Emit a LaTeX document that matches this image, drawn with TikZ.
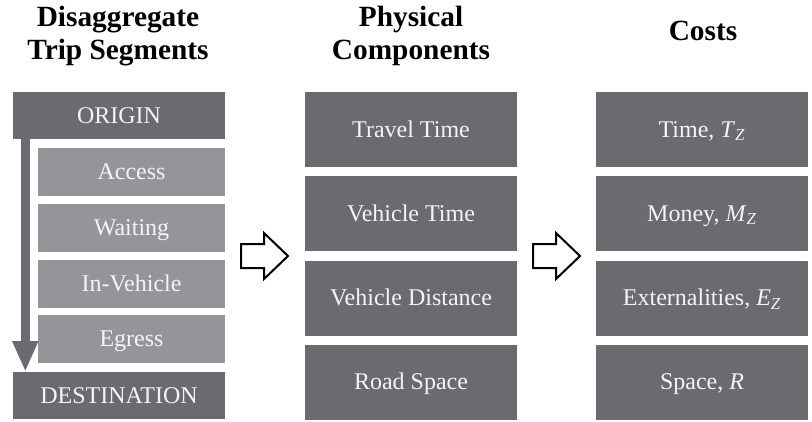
\documentclass[tikz,border=0pt]{standalone}
\usepackage{fontspec}
\setmainfont{Liberation Serif}
\usetikzlibrary{arrows.meta}
\definecolor{darkbox}{HTML}{6A6B6F}
\definecolor{lightbox}{HTML}{939598}
\definecolor{boxtext}{HTML}{F4F4F4}
\tikzset{
  boxbase/.style={rectangle, inner sep=0pt, text=boxtext, font=\fontsize{18}{20}\selectfont,
    text height=11.9pt, text depth=0pt},
  darkcell/.style={boxbase, fill=darkbox, minimum width=159pt},
  lightcell/.style={boxbase, fill=lightbox, minimum width=140.25pt, minimum height=36pt},
  endcell/.style={darkcell, minimum height=35.25pt},
  bigcell/.style={darkcell, minimum height=56.25pt},
  header/.style={align=center, anchor=base, font=\fontsize{22}{24.75}\selectfont\bfseries},
  blockarrow/.style={draw=black, line width=1.5pt, fill=white, line join=miter},
  flowarrow/.style={draw=darkbox, line width=6.5pt, -{Triangle[width=18pt,length=23pt]}}
}
\begin{document}
\begin{tikzpicture}[x=0.75pt,y=-0.75pt]
\useasboundingbox (0,0) rectangle (812,421);
% headers
\node[header] (h1) at (118,59) {Disaggregate\\Trip Segments};
\node[header] (h2) at (411,59) {Physical\\Components};
\node[header] (h3) at (703,40) {Costs};
% left column
\node[endcell] (origin) at (119,115.5) {ORIGIN};
\node[lightcell] (access) at (131.5,172) {Access};
\node[lightcell] (waiting) at (131.5,228) {Waiting};
\node[lightcell] (invehicle) at (131.5,283.5) {In-Vehicle};
\node[lightcell] (egress) at (131.5,339) {Egress};
\node[endcell] (dest) at (119,395.5) {DESTINATION};
\draw[flowarrow] ([xshift=9.4pt]origin.south west) -- ([xshift=9.4pt]dest.north west);
% middle column
\node[bigcell] (travel) at (411,129.5) {Travel Time};
\node[bigcell] (vtime) at (411,213.5) {Vehicle Time};
\node[bigcell] (vdist) at (411,298) {Vehicle Distance};
\node[bigcell] (road) at (411,382) {Road Space};
% right column
\node[bigcell] (ctime) at (702,129.5) {Time, \textit{T}\textsubscript{\textit{Z}}};
\node[bigcell] (cmoney) at (702,213.5) {Money, \textit{M}\textsubscript{\textit{Z}}};
\node[bigcell] (cext) at (702,298) {Externalities, \textit{E}\textsubscript{\textit{Z}}};
\node[bigcell] (cspace) at (702,382) {Space, \textit{R}};
% block arrows
\coordinate (a1) at (241,256);
\coordinate (a2) at (533,256);
\foreach \a in {a1,a2}{
  \draw[blockarrow] (\a) ++(0,-12) -- ++(23,0) -- ++(0,-11) -- ++(24,23) -- ++(-24,23) -- ++(0,-11) -- ++(-23,0) -- cycle;
}
\end{tikzpicture}
\end{document}
